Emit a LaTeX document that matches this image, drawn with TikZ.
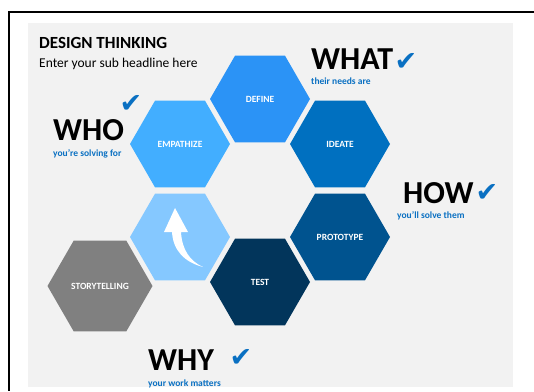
\documentclass[tikz,border=0pt]{standalone}
\usepackage{fontspec}
\setmainfont{Carlito}
\newfontfamily\symfont{DejaVu Sans}
\usetikzlibrary{shapes.geometric}
\definecolor{bggray}{HTML}{F2F2F2}
\definecolor{defineblue}{HTML}{2B93F6}
\definecolor{empblue}{HTML}{42AEFF}
\definecolor{ideateblue}{HTML}{0070C0}
\definecolor{loopblue}{HTML}{85C8FF}
\definecolor{protoblue}{HTML}{00538F}
\definecolor{testblue}{HTML}{02355B}
\definecolor{storygray}{HTML}{808080}
\definecolor{tickblue}{HTML}{0A70C2}
\begin{document}
\begin{tikzpicture}[x=1pt,y=-1pt,
    hexa/.style={regular polygon, regular polygon sides=6, minimum size=100pt,
      inner sep=0pt, text=white, font=\bfseries\fontsize{9.5}{11}\selectfont},
    big/.style={anchor=base west, inner sep=0pt, font=\bfseries\fontsize{32}{34}\selectfont},
    sub/.style={anchor=base west, inner sep=0pt, text=tickblue, font=\bfseries\fontsize{9.5}{11}\selectfont},
    tickmark/.style={inner sep=0pt, text=tickblue, font=\symfont\fontsize{27}{29}\selectfont}]
  \useasboundingbox (0,0) rectangle (534,391);
  \fill[bggray] (28,23) rectangle (513,387);
  \draw[line width=1.2pt] (534,12) -- (9,12) -- (9,391);

  % headline
  \node[anchor=base west, inner sep=0pt, font=\bfseries\fontsize{17}{19}\selectfont] (title) at (39,48) {DESIGN THINKING};
  \node[anchor=base west, inner sep=0pt, font=\fontsize{13.5}{15}\selectfont] (subtitle) at (39,67) {Enter your sub headline here};

  % hexagons
  \node[hexa, fill=defineblue] (define) at (260,99) {DEFINE};
  \node[hexa, fill=empblue] (empathize) at (180,144) {EMPATHIZE};
  \node[hexa, fill=ideateblue] (ideate) at (340,144) {IDEATE};
  \node[hexa, fill=loopblue] (loop) at (180,237) {};
  \node[hexa, fill=protoblue] (prototype) at (340,237) {PROTOTYPE};
  \node[hexa, fill=testblue] (test) at (260,282) {TEST};
  \node[hexa, fill=storygray, minimum size=105pt] (story) at (100,286) {STORYTELLING};

  % curved arrow
  \fill[white] (175,208) -- (188,232) -- (181,232)
    .. controls (182,250) and (190,261) .. (203,267)
    .. controls (184,262) and (173,250) .. (172,232) -- (164,232) -- cycle;

  % questions
  \node[big] (what) at (311,69) {WHAT};
  \node[sub] (whatsub) at (311,84) {their needs are};
  \node[tickmark] (whattick) at (406,62) {✔};
  \node[big] (who) at (53,140) {WHO};
  \node[sub] (whosub) at (53,156) {you’re solving for};
  \node[tickmark] (whotick) at (131,104) {✔};
  \node[big] (how) at (403,203) {HOW};
  \node[sub] (howsub) at (397,218) {you’ll solve them};
  \node[tickmark] (howtick) at (487,193) {✔};
  \node[big] (why) at (148,370) {WHY};
  \node[sub] (whysub) at (148,386) {your work matters};
  \node[tickmark] (whytick) at (241,358) {✔};
\end{tikzpicture}
\end{document}
